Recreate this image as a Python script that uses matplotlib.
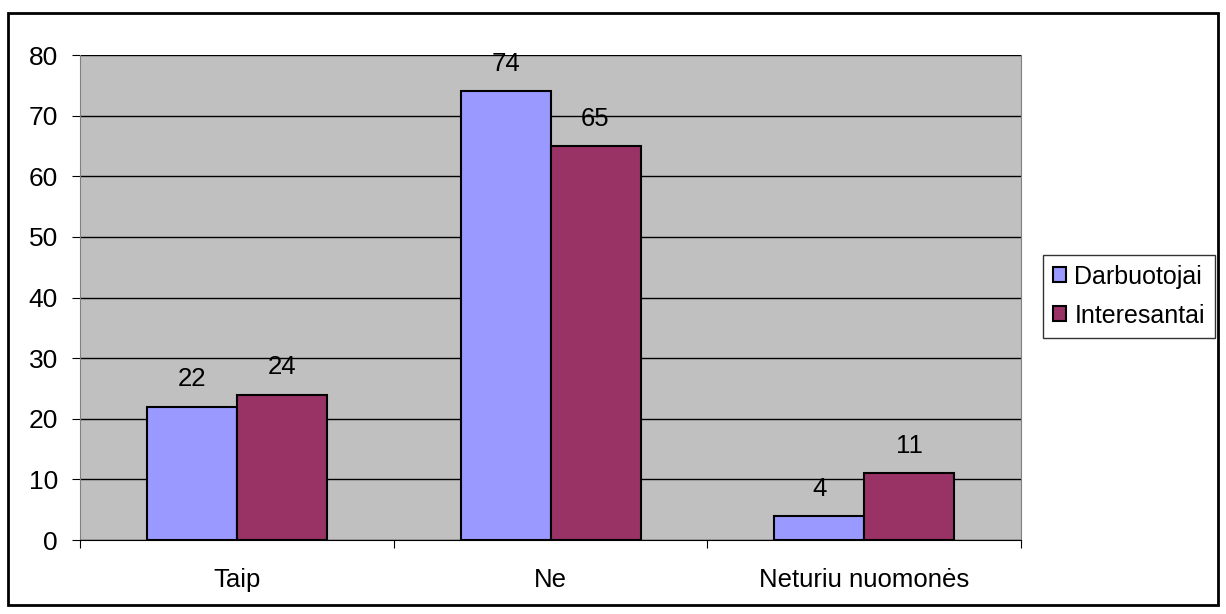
import matplotlib.pyplot as plt
import numpy as np
from matplotlib.patches import Rectangle

plt.rcParams['font.family'] = ['Liberation Sans', 'DejaVu Sans']

categories = ['Taip', 'Ne', 'Neturiu nuomonės']
darbuotojai = [22, 74, 4]
interesantai = [24, 65, 11]
series_names = ['Darbuotojai', 'Interesantai']
colors = ['#9999FF', '#993366']

fig = plt.figure(figsize=(12.26, 6.14), dpi=100)
ax = fig.add_axes([0.0653, 0.1205, 0.7675, 0.7899])

# outer frame around the whole chart
fig.patches.append(Rectangle((0.0065, 0.015), 0.987, 0.964, transform=fig.transFigure,
                             fill=False, edgecolor='black', linewidth=2))

fs = 18.5
x = np.arange(len(categories))
w = 0.287
b1 = ax.bar(x - w/2, darbuotojai, w, color=colors[0], edgecolor='black', linewidth=1.5,
            label=series_names[0], zorder=3)
b2 = ax.bar(x + w/2, interesantai, w, color=colors[1], edgecolor='black', linewidth=1.5,
            label=series_names[1], zorder=3)

for bars, vals in [(b1, darbuotojai), (b2, interesantai)]:
    for r, v in zip(bars, vals):
        ax.text(r.get_x() + r.get_width()/2, v + 2.5, str(v), ha='center', va='bottom',
                fontsize=fs)

ax.set_facecolor('#C0C0C0')
ax.set_xlim(-0.5, 2.5)
ax.set_ylim(0, 80)
ax.set_yticks(range(0, 81, 10))
ax.yaxis.grid(True, color='black', linewidth=1, zorder=0)
ax.set_axisbelow(True)

ax.set_xticks([-0.5, 0.5, 1.5, 2.5])
ax.set_xticklabels([])
ax.set_xticks(x, minor=True)
ax.set_xticklabels(categories, minor=True, fontsize=fs)
ax.tick_params(axis='x', which='minor', length=0, pad=20)
ax.tick_params(axis='x', which='major', length=6, color='black')
ax.tick_params(axis='y', length=6, labelsize=19, pad=10)

for s in ['left', 'right', 'top']:
    ax.spines[s].set_color('#808080')
ax.spines['top'].set_visible(False)
ax.spines['bottom'].set_color('black')

leg = ax.legend(loc='center left', bbox_to_anchor=(1.023, 0.503), fontsize=18,
                frameon=True, fancybox=False, edgecolor='black', handlelength=0.52,
                handleheight=0.52, handletextpad=0.35, borderpad=0.4, labelspacing=0.6,
                borderaxespad=0)
leg.get_frame().set_linewidth(1)

fig.savefig('out.png', dpi=100)
